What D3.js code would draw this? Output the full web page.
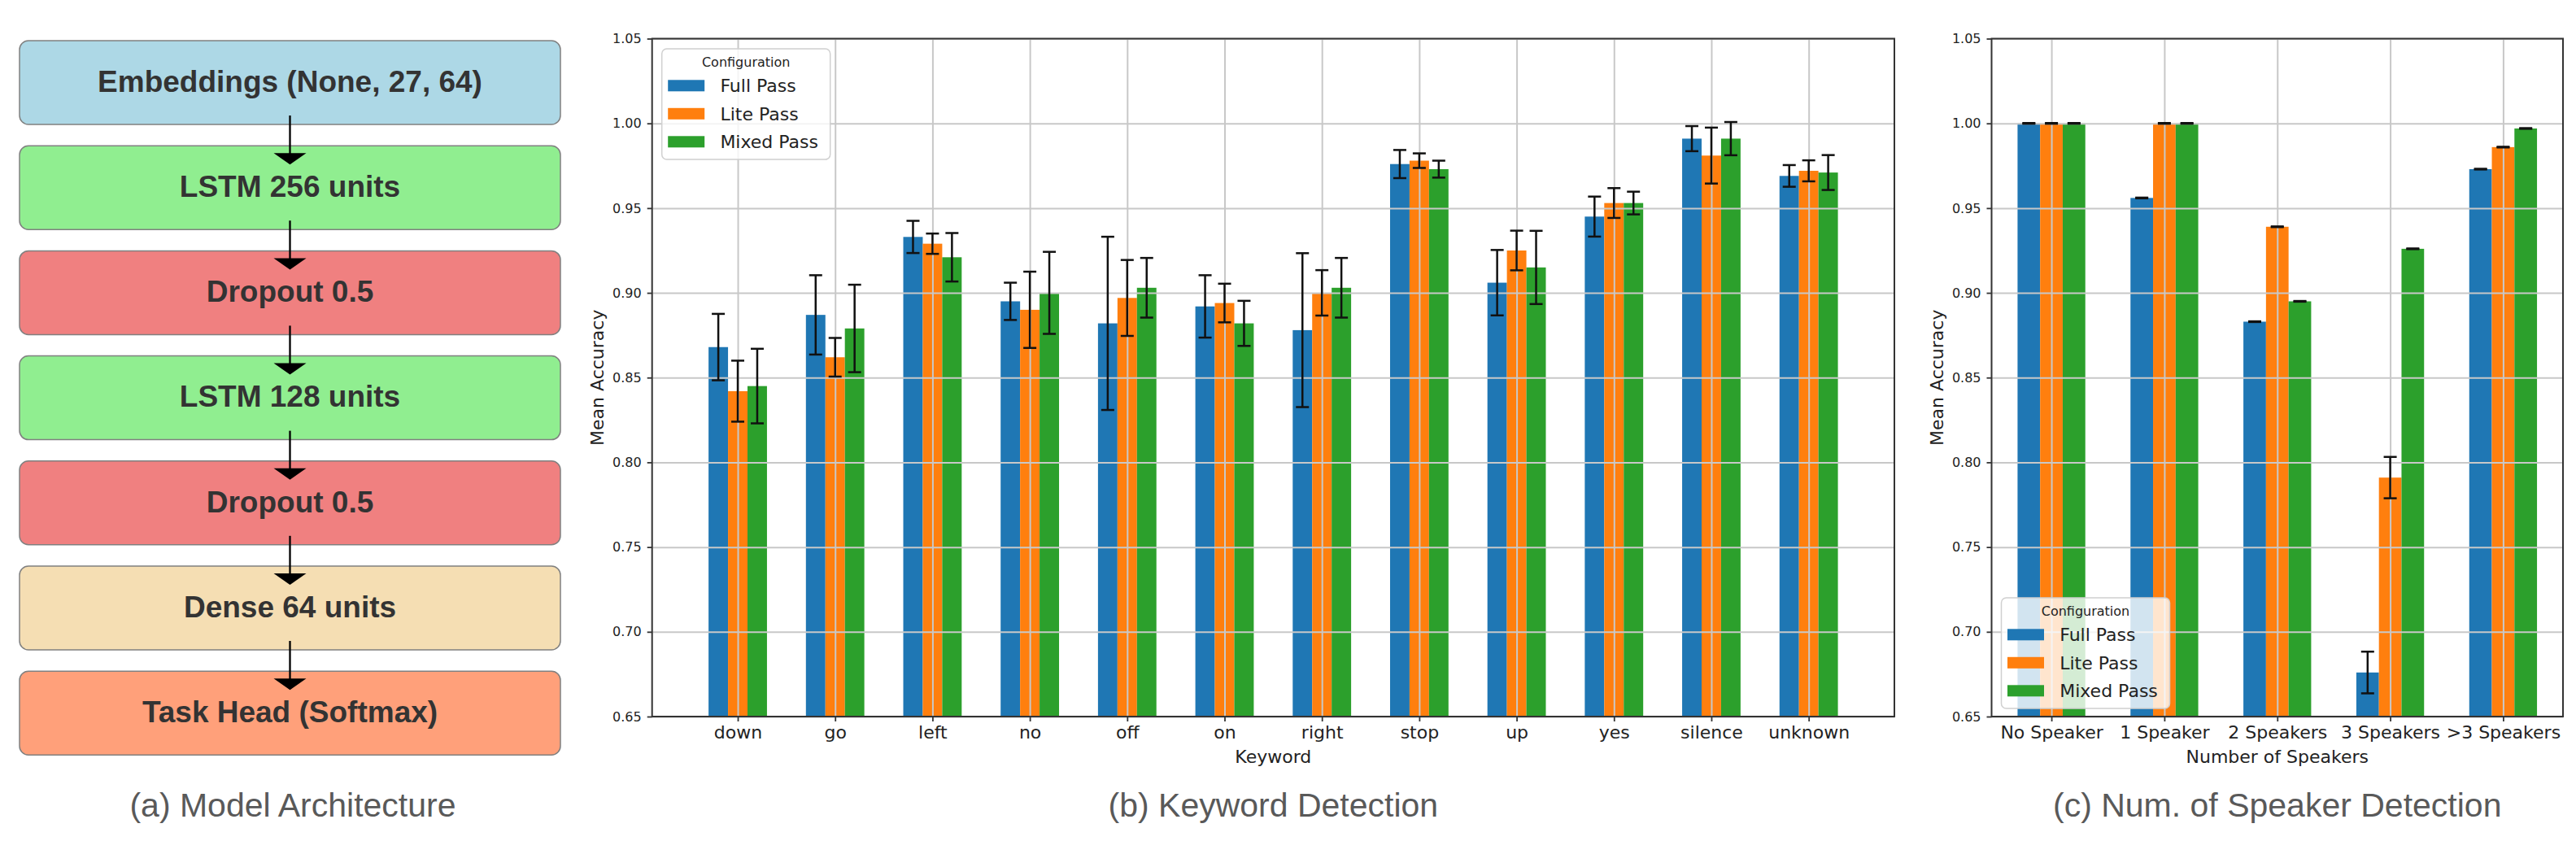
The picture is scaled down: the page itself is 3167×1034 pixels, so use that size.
<!DOCTYPE html>
<html>
<head>
<meta charset="utf-8">
<script src="https://cdn.jsdelivr.net/npm/d3@7"></script>
<style>
  body { margin: 0; background: #fff; }
  svg { display: block; }
</style>
</head>
<body>
<svg id="fig" width="3167" height="1034"></svg>
<script>
// ---- data ----
var layers = ["Embeddings (None, 27, 64)", "LSTM 256 units", "Dropout 0.5", "LSTM 128 units",
              "Dropout 0.5", "Dense 64 units", "Task Head (Softmax)"];
var layerColors = ["#add8e6", "#90ee90", "#f08080", "#90ee90", "#f08080", "#f5deb3", "#ffa07a"];

var configs = ["Full Pass", "Lite Pass", "Mixed Pass"];
var configColors = ["#1f77b4", "#ff7f0e", "#2ca02c"];

var keywords = ["down", "go", "left", "no", "off", "on", "right", "stop", "up", "yes", "silence", "unknown"];
var kwFull      = [0.868, 0.887, 0.933, 0.895, 0.882, 0.892, 0.878, 0.976, 0.906, 0.945, 0.991, 0.969];
var kwFullErr   = [0.0196, 0.0234, 0.0095, 0.011, 0.0511, 0.0184, 0.0454, 0.0083, 0.0193, 0.0118, 0.0074, 0.0064];
var kwLite      = [0.842, 0.862, 0.929, 0.890, 0.897, 0.894, 0.900, 0.978, 0.925, 0.953, 0.981, 0.972];
var kwLiteErr   = [0.018, 0.0114, 0.006, 0.0225, 0.0224, 0.0114, 0.0134, 0.0043, 0.0117, 0.0088, 0.0165, 0.0062];
var kwMixed     = [0.845, 0.879, 0.921, 0.900, 0.903, 0.882, 0.903, 0.973, 0.915, 0.953, 0.991, 0.971];
var kwMixedErr  = [0.022, 0.0258, 0.0143, 0.0242, 0.0176, 0.0133, 0.0176, 0.005, 0.0216, 0.0067, 0.0098, 0.0103];

var speakers = ["No Speaker", "1 Speaker", "2 Speakers", "3 Speakers", ">3 Speakers"];
var spkFull     = [1.000, 0.956, 0.883, 0.676, 0.973];
var spkFullErr  = [0.0002, 0.0002, 0.0002, 0.0123, 0.0002];
var spkLite     = [1.000, 1.000, 0.939, 0.791, 0.986];
var spkLiteErr  = [0.0002, 0.0002, 0.0002, 0.0122, 0.0002];
var spkMixed    = [1.000, 1.000, 0.895, 0.926, 0.997];
var spkMixedErr = [0.0002, 0.0002, 0.0002, 0.0002, 0.0002];

var yTicks = [0.65, 0.70, 0.75, 0.80, 0.85, 0.90, 0.95, 1.00, 1.05];

var svg = d3.select("#fig");
var mpl = "DejaVu Sans, sans-serif";

// ---- (a) model architecture ----
var boxY = d3.scaleBand().domain(d3.range(layers.length))
    .range([50, 50 + layers.length * 129.2 - 26.2]).paddingInner(0.203).paddingOuter(0);
var boxX0 = 24, boxX1 = 689, cx = (boxX0 + boxX1) / 2;

var arch = svg.append("g");
arch.selectAll("rect").data(layers).join("rect")
    .attr("x", boxX0).attr("y", (d, i) => boxY(i))
    .attr("width", boxX1 - boxX0).attr("height", boxY.bandwidth())
    .attr("rx", 11)
    .attr("fill", (d, i) => layerColors[i])
    .attr("stroke", "#808080").attr("stroke-width", 1.5);
arch.selectAll("text").data(layers).join("text")
    .attr("x", cx).attr("y", (d, i) => boxY(i) + boxY.bandwidth() * 0.61)
    .attr("text-anchor", "middle")
    .style("font-family", "Liberation Sans, Arial, sans-serif")
    .style("font-weight", "bold").style("font-size", "37px")
    .attr("fill", "#333")
    .text(d => d);

d3.range(layers.length - 1).forEach(function(i) {
    var y0 = boxY(i) + 92, tip = boxY(i + 1) + 23;
    arch.append("line").attr("x1", cx).attr("x2", cx).attr("y1", y0).attr("y2", tip - 10)
        .attr("stroke", "#000").attr("stroke-width", 2.3);
    arch.append("path")
        .attr("d", "M" + (cx - 20) + "," + (tip - 14) + "L" + (cx + 20) + "," + (tip - 14) + "L" + cx + "," + tip + "Z")
        .attr("fill", "#000");
});

function caption(x, txt) {
    svg.append("text").attr("x", x).attr("y", 1004).attr("text-anchor", "middle")
        .style("font-family", "Liberation Sans, Arial, sans-serif").style("font-size", "41px")
        .attr("fill", "#595959").text(txt);
}
caption(360, "(a) Model Architecture");

// ---- bar panels ----
function panel(cfg) {
    var n = cfg.cats.length;
    var span = (n - 1) + 0.6;
    var x = d3.scaleLinear().domain([-0.3 - 0.05 * span, n - 1 + 0.3 + 0.05 * span]).range([cfg.left, cfg.right]);
    var y = d3.scaleLinear().domain([0.65, 1.05]).range([cfg.bottom, cfg.top]);
    var g = svg.append("g");
    var bw = x(0.2) - x(0);

    // bars
    cfg.values.forEach(function(vals, k) {
        g.append("g").selectAll("rect").data(vals).join("rect")
            .attr("x", (d, i) => x(i + (k - 1) * 0.2 - 0.1))
            .attr("width", bw)
            .attr("y", d => y(d))
            .attr("height", d => y(0.65) - y(d))
            .attr("fill", configColors[k]);
    });

    // grid on top of bars
    var gx = g.append("g").attr("transform", "translate(0," + cfg.bottom + ")")
        .call(d3.axisBottom(x).tickValues(d3.range(n)).tickSize(-(cfg.bottom - cfg.top)).tickFormat(""));
    var gy = g.append("g").attr("transform", "translate(" + cfg.left + ",0)")
        .call(d3.axisLeft(y).tickValues(yTicks).tickSize(-(cfg.right - cfg.left)).tickFormat(""));
    [gx, gy].forEach(function(a) {
        a.select(".domain").remove();
        a.selectAll("line").attr("stroke", "#c8c8c8").attr("stroke-width", 2);
    });

    // error bars
    cfg.values.forEach(function(vals, k) {
        var eg = g.append("g").attr("stroke", "#111").attr("stroke-width", 2.5);
        vals.forEach(function(v, i) {
            var e = cfg.errs[k][i];
            var xc = x(i + (k - 1) * 0.2);
            eg.append("line").attr("x1", xc).attr("x2", xc).attr("y1", y(v - e)).attr("y2", y(v + e));
            eg.append("line").attr("x1", xc - 8).attr("x2", xc + 8).attr("y1", y(v - e)).attr("y2", y(v - e));
            eg.append("line").attr("x1", xc - 8).attr("x2", xc + 8).attr("y1", y(v + e)).attr("y2", y(v + e));
        });
    });

    // frame
    g.append("rect").attr("x", cfg.left).attr("y", cfg.top)
        .attr("width", cfg.right - cfg.left).attr("height", cfg.bottom - cfg.top)
        .attr("fill", "none").attr("stroke", "#333").attr("stroke-width", 2);

    // axes
    var ax = g.append("g").attr("transform", "translate(0," + cfg.bottom + ")")
        .call(d3.axisBottom(x).tickValues(d3.range(n)).tickFormat(i => cfg.cats[i]).tickSize(6).tickPadding(5));
    ax.select(".domain").remove();
    ax.selectAll("line").attr("stroke", "#333").attr("stroke-width", 1.8);
    ax.selectAll("text").style("font-family", mpl).style("font-size", "22px").attr("fill", "#222");

    var ay = g.append("g").attr("transform", "translate(" + cfg.left + ",0)")
        .call(d3.axisLeft(y).tickValues(yTicks).tickFormat(d3.format(".2f")).tickSize(6).tickPadding(7));
    ay.select(".domain").remove();
    ay.selectAll("line").attr("stroke", "#333").attr("stroke-width", 1.8);
    ay.selectAll("text").style("font-family", mpl).style("font-size", "16px").attr("fill", "#222");

    g.append("text").attr("x", (cfg.left + cfg.right) / 2).attr("y", cfg.bottom + 57)
        .attr("text-anchor", "middle").style("font-family", mpl).style("font-size", "22px")
        .attr("fill", "#222").text(cfg.xLabel);
    g.append("text").attr("transform", "translate(" + (cfg.left - 60) + "," + ((cfg.top + cfg.bottom) / 2) + ") rotate(-90)")
        .attr("text-anchor", "middle").style("font-family", mpl).style("font-size", "22px")
        .attr("fill", "#222").text("Mean Accuracy");

    // legend
    var lx = cfg.left + 12;
    var ly = cfg.legendTop ? cfg.top + 12.5 : cfg.bottom - 10 - 136;
    var lg = g.append("g").attr("transform", "translate(" + lx + "," + ly + ")");
    lg.append("rect").attr("width", 207).attr("height", 136).attr("rx", 6)
        .attr("fill", "#fff").attr("fill-opacity", 0.8)
        .attr("stroke", "#d0d0d0").attr("stroke-width", 1.5);
    lg.append("text").attr("x", 103.5).attr("y", 21.7).attr("text-anchor", "middle")
        .style("font-family", mpl).style("font-size", "16px").attr("fill", "#222").text("Configuration");
    lg.selectAll(".sw").data(configs).join("rect").attr("class", "sw")
        .attr("x", 7.5).attr("y", (d, k) => 38.3 + k * 34.5)
        .attr("width", 45).attr("height", 14).attr("fill", (d, k) => configColors[k]);
    lg.selectAll(".lt").data(configs).join("text").attr("class", "lt")
        .attr("x", 71.7).attr("y", (d, k) => 53.3 + k * 34.5)
        .style("font-family", mpl).style("font-size", "22px").attr("fill", "#222").text(d => d);

    caption((cfg.left + cfg.right) / 2, cfg.caption);
}

panel({
    cats: keywords,
    values: [kwFull, kwLite, kwMixed],
    errs: [kwFullErr, kwLiteErr, kwMixedErr],
    left: 801.7, right: 2329, top: 47.5, bottom: 881,
    xLabel: "Keyword", legendTop: true,
    caption: "(b) Keyword Detection"
});

panel({
    cats: speakers,
    values: [spkFull, spkLite, spkMixed],
    errs: [spkFullErr, spkLiteErr, spkMixedErr],
    left: 2448.5, right: 3151, top: 47.5, bottom: 881,
    xLabel: "Number of Speakers", legendTop: false,
    caption: "(c) Num. of Speaker Detection"
});
</script>
</body>
</html>
